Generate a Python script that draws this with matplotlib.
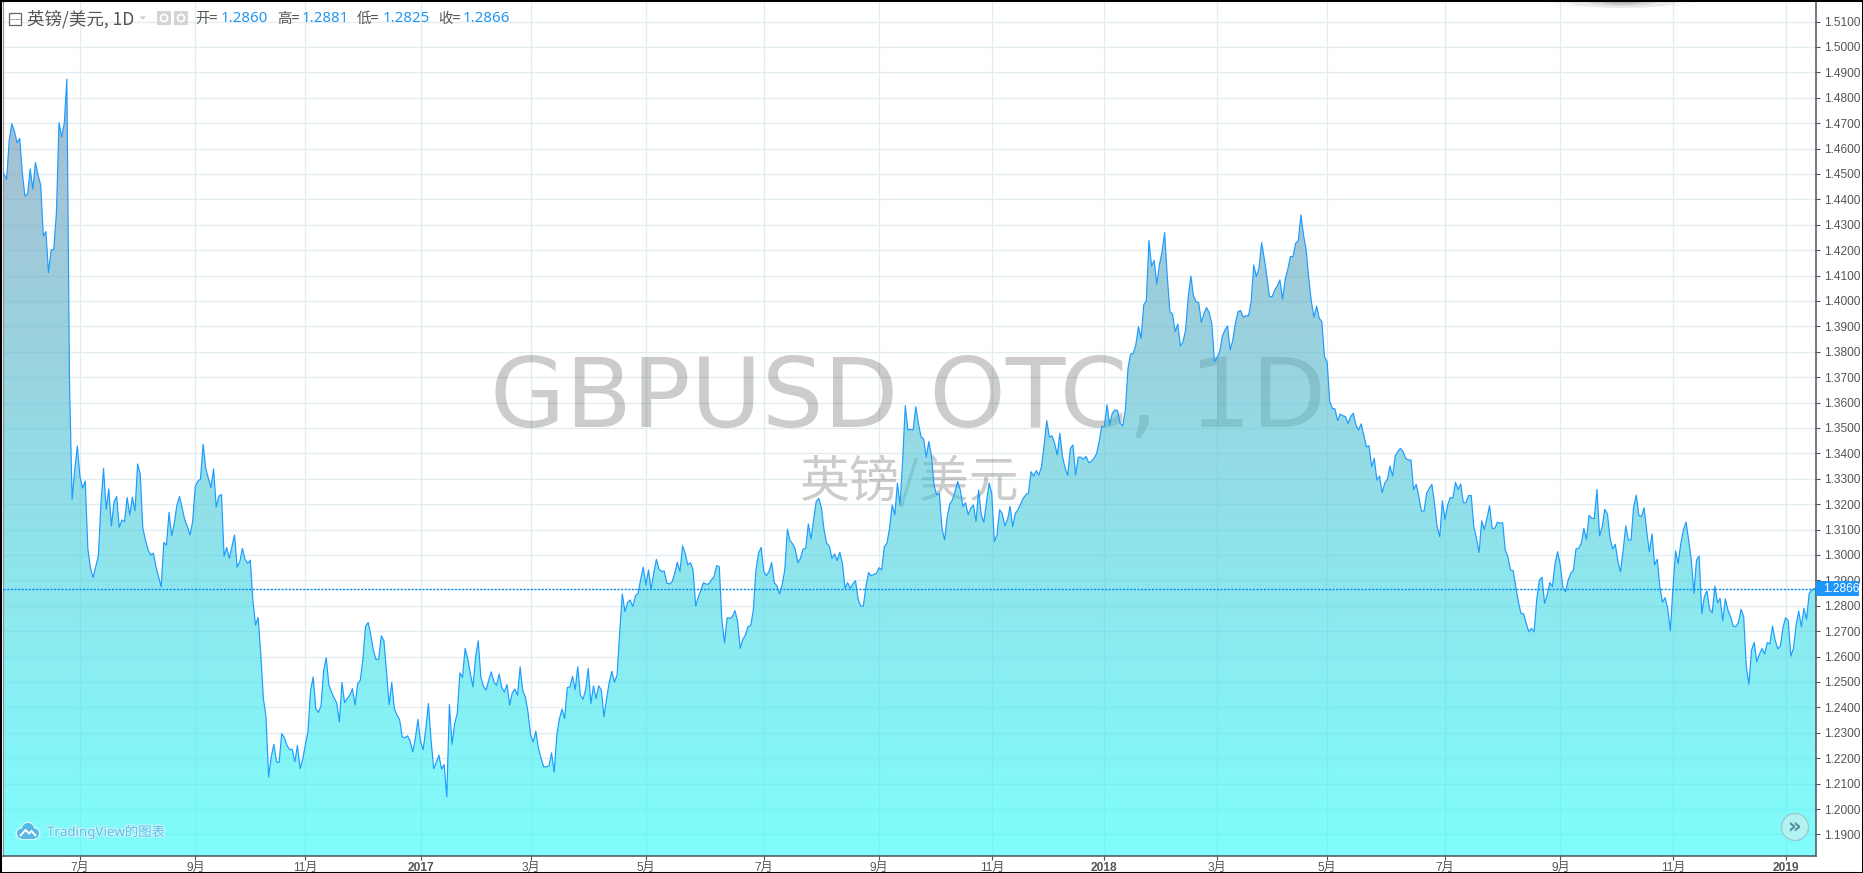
import numpy as np
import matplotlib.pyplot as plt
import matplotlib.patheffects as pe
from matplotlib.patches import PathPatch, Rectangle, Circle, Polygon, Ellipse
from matplotlib.path import Path

plt.rcParams['font.family'] = ['Liberation Sans', 'Noto Sans CJK SC', 'DejaVu Sans']

# Daily closes
close_2016_a = [
    1.4500, 1.4479, 1.4634, 1.4697, 1.4667, 1.4623, 1.4640, 1.4503, 1.4413, 1.4421,
    1.4520, 1.4440, 1.4545, 1.4496, 1.4457, 1.4256, 1.4273, 1.4112, 1.4201, 1.4203,
    1.4345, 1.4702, 1.4647, 1.4699, 1.4873, 1.3680, 1.3219, 1.3335, 1.3429, 1.3308,
    1.3263, 1.3291, 1.3026, 1.2948, 1.2911, 1.2954, 1.2996, 1.3203, 1.3341, 1.3180,
    1.3260, 1.3114, 1.3210, 1.3230, 1.3109, 1.3138, 1.3131, 1.3226, 1.3158, 1.3227,
    1.3175, 1.3358, 1.3319, 1.3105, 1.3059, 1.3020, 1.3000, 1.3007, 1.2954, 1.2915,
    1.2875, 1.3049, 1.3039, 1.3168, 1.3075, 1.3125, 1.3197, 1.3230, 1.3184, 1.3138,
    1.3112, 1.3079, 1.3131, 1.3269, 1.3291, 1.3299, 1.3436, 1.3341, 1.3302, 1.3266,
    1.3339, 1.3188, 1.3232, 1.3238, 1.2996, 1.3029, 1.2987, 1.3033, 1.3079, 1.2952,
    1.2974, 1.3026, 1.2983, 1.2967, 1.2980,
]
close_2016_b = [
    1.2822, 1.2724, 1.2754, 1.2612, 1.2435, 1.2363, 1.2126, 1.2205, 1.2255, 1.2186,
    1.2183, 1.2297, 1.2281, 1.2251, 1.2234, 1.2235, 1.2186, 1.2250, 1.2159, 1.2195,
    1.2251, 1.2304, 1.2465, 1.2520, 1.2395, 1.2380, 1.2406, 1.2544, 1.2596, 1.2487,
    1.2461, 1.2437, 1.2418, 1.2343, 1.2498, 1.2419, 1.2435, 1.2448, 1.2474, 1.2409,
    1.2494, 1.2507, 1.2592, 1.2720, 1.2734, 1.2684, 1.2625, 1.2588, 1.2590, 1.2682,
    1.2662, 1.2540, 1.2411, 1.2498, 1.2395, 1.2369, 1.2352, 1.2284, 1.2280, 1.2288,
    1.2268, 1.2225, 1.2277, 1.2353, 1.2264, 1.2234, 1.2317, 1.2415, 1.2271, 1.2159,
    1.2183, 1.2212, 1.2157, 1.2175, 1.2048, 1.2411, 1.2255, 1.2336, 1.2376, 1.2536,
]
close_2017_a = [
    1.2518, 1.2632, 1.2592, 1.2533, 1.2481, 1.2599, 1.2662, 1.2520, 1.2483, 1.2468,
    1.2507, 1.2540, 1.2500, 1.2487, 1.2531, 1.2478, 1.2461, 1.2490, 1.2409, 1.2457,
    1.2472, 1.2448, 1.2560, 1.2465, 1.2441, 1.2382, 1.2291, 1.2264, 1.2306, 1.2238,
    1.2199, 1.2166, 1.2166, 1.2170, 1.2221, 1.2146, 1.2291, 1.2356, 1.2393, 1.2356,
    1.2478, 1.2481, 1.2523, 1.2470, 1.2560, 1.2448, 1.2432, 1.2470, 1.2553, 1.2415,
    1.2485, 1.2435, 1.2485, 1.2468, 1.2363, 1.2435, 1.2498, 1.2542, 1.2500, 1.2527,
    1.2697, 1.2847, 1.2777, 1.2813, 1.2823, 1.2797, 1.2839, 1.2849, 1.2904, 1.2952,
    1.2882, 1.2941, 1.2865, 1.2928, 1.2983, 1.2944, 1.2935, 1.2937, 1.2889, 1.2886,
    1.2895, 1.2928, 1.2971, 1.2935, 1.3036, 1.3007, 1.2961, 1.2970, 1.2941, 1.2799,
    1.2834, 1.2862, 1.2891, 1.2885, 1.2886, 1.2902, 1.2915, 1.2958, 1.2954, 1.2744,
    1.2655, 1.2753, 1.2750, 1.2757, 1.2781, 1.2738, 1.2633, 1.2668, 1.2685, 1.2718,
    1.2722, 1.2784, 1.2941, 1.3007, 1.3030, 1.2935, 1.2919, 1.2935, 1.2971, 1.2891,
    1.2879, 1.2847, 1.2882, 1.2941, 1.3101, 1.3057, 1.3044, 1.3023, 1.2970, 1.2987,
    1.3023, 1.3026, 1.3122, 1.3062, 1.3138, 1.3210, 1.3223, 1.3184, 1.3099, 1.3046,
    1.3036, 1.2987, 1.3004, 1.2978, 1.3011, 1.2967, 1.2869, 1.2891, 1.2869, 1.2886,
    1.2899, 1.2826, 1.2799, 1.2799, 1.2878, 1.2931, 1.2918, 1.2924, 1.2928, 1.2950,
    1.2941,
]
close_2017_b = [
    1.3033, 1.3046, 1.3105, 1.3197, 1.3158, 1.3283, 1.3197, 1.3374, 1.3588, 1.3492,
    1.3495, 1.3492, 1.3584, 1.3519, 1.3466, 1.3456, 1.3385, 1.3447, 1.3388, 1.3272,
    1.3237, 1.3243, 1.3105, 1.3059, 1.3151, 1.3201, 1.3217, 1.3250, 1.3289, 1.3256,
    1.3191, 1.3206, 1.3158, 1.3184, 1.3197, 1.3132, 1.3256, 1.3158, 1.3129, 1.3210,
    1.3283, 1.3243, 1.3053, 1.3079, 1.3178, 1.3164, 1.3115, 1.3138, 1.3191, 1.3112,
    1.3164, 1.3178, 1.3201, 1.3223, 1.3237, 1.3243, 1.3328, 1.3311, 1.3332, 1.3315,
    1.3348, 1.3433, 1.3529, 1.3464, 1.3469, 1.3440, 1.3394, 1.3479, 1.3388, 1.3342,
    1.3313, 1.3420, 1.3433, 1.3315, 1.3385, 1.3385, 1.3377, 1.3388, 1.3364, 1.3368,
    1.3381, 1.3398, 1.3447, 1.3506, 1.3506, 1.3591, 1.3512, 1.3558, 1.3571, 1.3569,
    1.3519, 1.3508, 1.3571, 1.3735,
]
close_2018_a = [
    1.3791, 1.3794, 1.3827, 1.3899, 1.3853, 1.3984, 1.4001, 1.4238, 1.4138, 1.4159,
    1.4066, 1.4142, 1.4194, 1.4269, 1.4096, 1.3958, 1.3949, 1.3879, 1.3909, 1.3823,
    1.3840, 1.3886, 1.4017, 1.4098, 1.4020, 1.3997, 1.3993, 1.3916, 1.3951, 1.3974,
    1.3954, 1.3909, 1.3761, 1.3777, 1.3801, 1.3860, 1.3886, 1.3902, 1.3807, 1.3846,
    1.3912, 1.3958, 1.3962, 1.3936, 1.3942, 1.3942, 1.3997, 1.4142, 1.4096, 1.4129,
    1.4230, 1.4168, 1.4096, 1.4017, 1.4017, 1.4043, 1.4059, 1.4083, 1.4007, 1.4085,
    1.4125, 1.4175, 1.4175, 1.4227, 1.4238, 1.4339, 1.4260, 1.4201, 1.4089, 1.3997,
    1.3936, 1.3980, 1.3932, 1.3919, 1.3781, 1.3761,
]
close_2018_b = [
    1.3604, 1.3577, 1.3575, 1.3529, 1.3555, 1.3548, 1.3545, 1.3518, 1.3545, 1.3558,
    1.3512, 1.3492, 1.3516, 1.3472, 1.3426, 1.3430, 1.3348, 1.3380, 1.3295, 1.3311,
    1.3245, 1.3282, 1.3298, 1.3350, 1.3311, 1.3390, 1.3407, 1.3420, 1.3407, 1.3380,
    1.3374, 1.3374, 1.3258, 1.3278, 1.3230, 1.3173, 1.3173, 1.3243, 1.3262, 1.3278,
    1.3203, 1.3111, 1.3072, 1.3214, 1.3140, 1.3197, 1.3226, 1.3223, 1.3286, 1.3258,
    1.3279, 1.3206, 1.3206, 1.3234, 1.3234, 1.3111, 1.3066, 1.3010, 1.3134, 1.3101,
    1.3144, 1.3194, 1.3105, 1.3105, 1.3129, 1.3125, 1.3127, 1.3020, 1.2993, 1.2941,
    1.2938, 1.2875, 1.2816, 1.2770, 1.2768, 1.2731, 1.2698, 1.2711, 1.2698, 1.2823,
    1.2901, 1.2912, 1.2810, 1.2842, 1.2892, 1.2875, 1.2967, 1.3013, 1.2961, 1.2871,
    1.2856, 1.2901, 1.2928, 1.2941, 1.3024, 1.3026, 1.3046, 1.3105, 1.3062, 1.3157,
    1.3144, 1.3144, 1.3258, 1.3075, 1.3111, 1.3180, 1.3161, 1.3066, 1.3024, 1.3042,
    1.2974, 1.2934, 1.3020, 1.3115, 1.3059, 1.3059, 1.3190, 1.3236, 1.3155, 1.3151,
    1.3186, 1.3092, 1.3013, 1.3083, 1.2961, 1.2983, 1.2875, 1.2814, 1.2832, 1.2790,
    1.2702, 1.2869, 1.3016, 1.2967, 1.3046, 1.3098, 1.3130, 1.3059, 1.2980, 1.2849,
    1.2980, 1.2996, 1.2770, 1.2836, 1.2859, 1.2786, 1.2773, 1.2878, 1.2812, 1.2829,
    1.2741, 1.2827, 1.2783, 1.2757, 1.2720, 1.2718, 1.2734, 1.2786, 1.2757, 1.2560,
    1.2491, 1.2626, 1.2656, 1.2580, 1.2609, 1.2632, 1.2610, 1.2655, 1.2650, 1.2720,
    1.2665, 1.2630, 1.2642, 1.2715, 1.2753, 1.2741, 1.2602, 1.2632, 1.2724, 1.2779,
    1.2718, 1.2790, 1.2747, 1.2849, 1.2862, 1.2869, 1.2862,
]
close = close_2016_a + close_2016_b + close_2017_a + close_2017_b + close_2018_a + close_2018_b

month_days = [29, 73, 115, 159, 201, 245, 290, 334, 377, 420, 463, 505, 550, 594, 637, 680]
month_labels = ['7月', '9月', '11月', '2017', '3月', '5月', '7月', '9月', '11月', '2018',
                '3月', '5月', '7月', '9月', '11月', '2019']
price_ticks = [round(1.19 + 0.01 * i, 2) for i in range(33)]
last_price = 1.2866
ohlc_names = ['开=', '高=', '低=', '收=']
ohlc_values = ['1.2860', '1.2881', '1.2825', '1.2866']

W, H = 1863, 873
fig = plt.figure(figsize=(W / 100, H / 100), dpi=100, facecolor='white')
ax = fig.add_axes([3 / W, (H - 856) / H, (1816 - 3) / W, (856 - 2) / H])

days = np.arange(len(close))
ax.set_xlim(-0.38, 691.6)
ax.set_ylim(1.1815, 1.5177)

# grid sits under the see-through area
ax.set_axisbelow(True)
ax.grid(True, color='#e2edf1', lw=1.0)


def fx(px):
    return px / W


def fy(py):
    return 1 - py / H


# watermark goes under the area too
ax.text(fx(908), fy(401), 'GBPUSD OTC, 1D', fontsize=70, color='black', alpha=0.2,
        ha='center', va='center', family='DejaVu Sans', transform=fig.transFigure, zorder=1)
ax.text(fx(909), fy(483), '英镑/美元', fontsize=36, color='black', alpha=0.2,
        ha='center', va='center', family=['Noto Sans CJK SC', 'DejaVu Sans'],
        transform=fig.transFigure, zorder=1)

# vertical gradient for the area, clipped to the shape under the line
top = np.array([110, 143, 175]) / 255
bottom = np.array([43, 252, 252]) / 255
t = np.linspace(0, 1, 256).reshape(-1, 1, 1)
grad = top + (bottom - top) * t
grad = np.concatenate([grad, np.full((256, 1, 1), 0.6)], axis=2)
im = ax.imshow(grad, extent=[-0.38, 691.6, 1.1815, 1.4875], aspect='auto', origin='upper', zorder=2)
ax.set_xlim(-0.38, 691.6)
ax.set_ylim(1.1815, 1.5177)
verts = [(days[0], 1.1815)] + list(zip(days, close)) + [(days[-1], 1.1815), (days[0], 1.1815)]
clip = PathPatch(Path(verts), transform=ax.transData, fc='none', ec='none')
ax.add_patch(clip)
im.set_clip_path(clip)

ax.plot(days, close, color='#1e9bff', lw=0.85, zorder=3)
ax.axhline(last_price, color='#0a8cf0', lw=1.0, ls=(0, (1.6, 1.0)), zorder=4)

# axes
ax.spines['top'].set_visible(False)
ax.spines['left'].set_color('#8a8f98')
for side in ['right', 'bottom']:
    ax.spines[side].set_color('#4c525e')
    ax.spines[side].set_linewidth(1.1)
ax.yaxis.tick_right()
ax.set_yticks(price_ticks)
ax.set_yticklabels([f'{p:.4f}' for p in price_ticks], fontsize=8.6, color='#555555')
ax.tick_params(axis='y', length=3, width=0.8, color='#4c525e', pad=3)
ax.set_xticks(month_days)
ax.set_xticklabels(month_labels, fontsize=8.6, color='#555555')
ax.tick_params(axis='x', length=3, width=0.8, color='#4c525e', pad=1.5)
for lab in ax.get_xticklabels():
    if lab.get_text() in ('2017', '2018', '2019'):
        lab.set_fontweight('bold')

# header
fig.patches.append(Rectangle((fx(9), fy(25)), 12 / W, 12 / H, transform=fig.transFigure,
                             fc='white', ec='#666666', lw=0.9))
fig.patches.append(Rectangle((fx(9), fy(19.3)), 12 / W, 0.5 / H, transform=fig.transFigure,
                             fc='#666666', ec='#666666', lw=0.4))
fig.text(fx(27), fy(19), '英镑/美元, 1D', fontsize=12.6, color='#555555', va='center',
         family=['Noto Sans CJK SC', 'DejaVu Sans'])
fig.patches.append(Polygon([[fx(139.5), fy(16.5)], [fx(146), fy(16.5)], [fx(142.8), fy(19.5)]],
                           transform=fig.transFigure, fc='#c8c8c8', ec='none'))
for left in [157, 174]:
    fig.patches.append(Rectangle((fx(left), fy(25)), 14 / W, 14 / H, transform=fig.transFigure,
                                 fc='#d4d4d4', ec='none'))
    fig.patches.append(Ellipse((fx(left + 7), fy(18)), 7 / W, 7 / H, transform=fig.transFigure,
                               fc='none', ec='white', lw=1.3))
for px_name, px_val, name, val in zip([195, 277, 357, 438], [221, 302, 383, 463], ohlc_names, ohlc_values):
    fig.text(fx(px_name), fy(19), name, fontsize=10.4, color='#555555', va='center',
             family=['Noto Sans CJK SC', 'DejaVu Sans'])
    fig.text(fx(px_val), fy(19), val, fontsize=10.8, color='#2196f3', va='center', family='Noto Sans')

# shadow smudge at the top edge
for w_px, h_px, a in [(150, 14, 0.03), (110, 14, 0.05), (70, 10, 0.08), (40, 7, 0.12)]:
    fig.patches.append(Ellipse((fx(1622), fy(1)), w_px / W, h_px / H, transform=fig.transFigure,
                               fc='black', ec='none', alpha=a, zorder=6))

# last price tag
fig.patches.append(Rectangle((fx(1816), fy(596)), 43 / W, 15 / H, transform=fig.transFigure,
                             fc='#1e96fc', ec='none', zorder=5))
fig.text(fx(1823), fy(588.5), '1.2866', fontsize=8.6, color='white', va='center', zorder=6)

# logo
fig.text(fx(47), fy(832), 'TradingView的图表', fontsize=9.6, color='#62bce8', va='center',
         family=['Noto Sans', 'Noto Sans CJK SC'], zorder=6,
         path_effects=[pe.withStroke(linewidth=1.6, foreground='#c8f6f9')])
for grow, colour in [(1.5, '#d2f7fa'), (0, '#55b8e4')]:
    for cx, cy, r in [(22, 833.5, 5), (28, 829, 6), (34, 833.5, 5)]:
        fig.patches.append(Ellipse((fx(cx), fy(cy)), 2 * (r + grow) / W, 2 * (r + grow) / H,
                                   transform=fig.transFigure, fc=colour, ec='none', zorder=6))
    fig.patches.append(Rectangle((fx(22 - grow), fy(838.5 + grow)), (12 + 2 * grow) / W, (6 + grow) / H,
                                 transform=fig.transFigure, fc=colour, ec='none', zorder=6))
mountains = [[20, 836], [25.5, 830], [29, 833.5], [31.5, 831], [36, 836]]
fig.patches.append(Polygon([[fx(a), fy(b)] for a, b in mountains], closed=False, transform=fig.transFigure,
                           fc='none', ec='white', lw=1.4, zorder=7))

# scroll button
fig.patches.append(Ellipse((fx(1795), fy(827)), 27 / W, 27 / H, transform=fig.transFigure,
                           fc='#b3f2f3', ec='#9cc7cc', lw=0.9, zorder=6))
fig.text(fx(1795), fy(826), '»', fontsize=15, color='#4e8f9a', ha='center', va='center',
         family='DejaVu Sans', fontweight='bold', zorder=7)

# outer black frame
fig.patches.append(Rectangle((0, 0), 1, 1, transform=fig.transFigure, fc='none', ec='black', lw=2.2, zorder=20))

fig.savefig('out.png', dpi=100, facecolor='white')
